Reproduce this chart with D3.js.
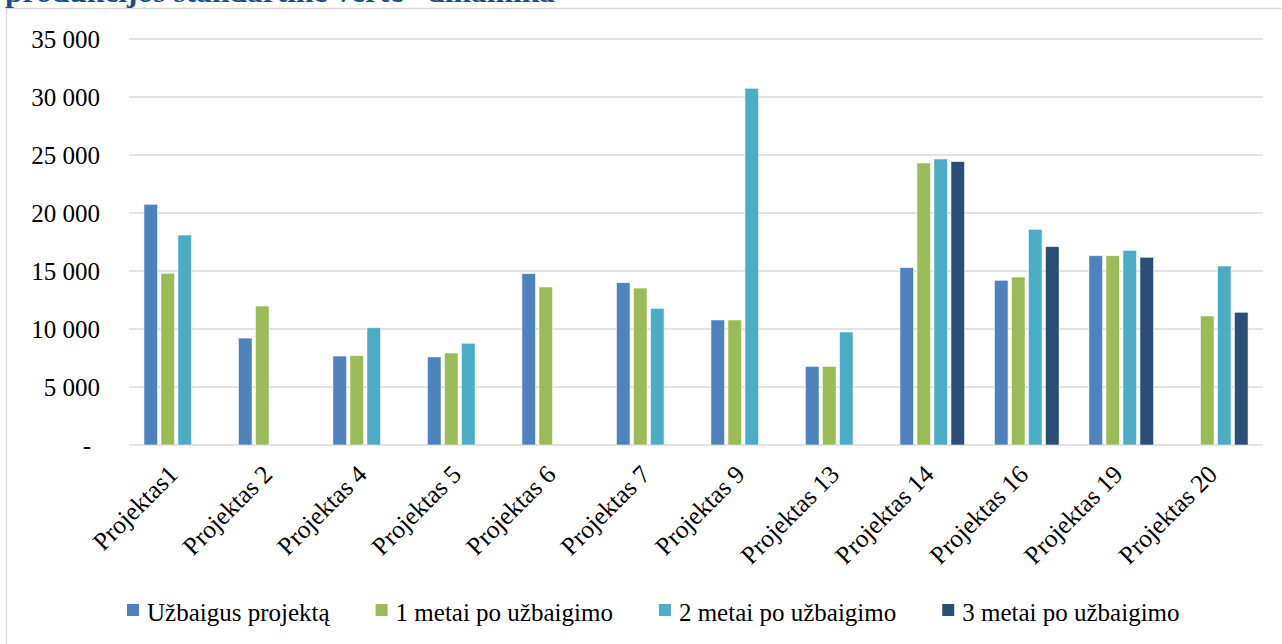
<!DOCTYPE html>
<html>
<head>
  <meta charset="utf-8">
  <title>Projektų vertės dinamika</title>
  <script src="https://cdn.jsdelivr.net/npm/d3@7/dist/d3.min.js"></script>
</head>
<style>
  html,
  body {
    margin: 0;
    padding: 0;
    overflow: hidden;
    background: white
  }

  svg {
    font-family: "Liberation Serif", "DejaVu Serif", serif;
  }
</style>
<body>
  <div id="chart"></div>
</body>
<script>
  const projects = ['Projektas1', 'Projektas 2', 'Projektas 4', 'Projektas 5', 'Projektas 6', 'Projektas 7',
    'Projektas 9', 'Projektas 13', 'Projektas 14', 'Projektas 16', 'Projektas 19', 'Projektas 20']
  const seriesNames = ['Užbaigus projektą', '1 metai po užbaigimo', '2 metai po užbaigimo', '3 metai po užbaigimo']
  const colors = ['#4f81bd', '#9bbb59', '#4bacc6', '#2c4d75']

  // null = no bar for that project
  const atCompletion = [20750, 9220, 7670, 7590, 14770, 13990, 10780, 6780, 15290, 14200, 16320, null]
  const oneYear = [14800, 11980, 7700, 7930, 13620, 13530, 10780, 6780, 24310, 14480, 16320, 11120]
  const twoYears = [18100, null, 10110, 8770, null, 11780, 30750, 9740, 24660, 18590, 16780, 15430]
  const threeYears = [null, null, null, null, null, null, null, null, 24430, 17100, 16180, 11440]

  const yTicks = [0, 5000, 10000, 15000, 20000, 25000, 30000, 35000]
  const title = 'produkcijos standartinė vertė“ dinamika'

  const W = 1282, H = 644
  const plotLeft = 129, plotRight = 1263, plotTop = 39, plotBottom = 445

  const svg = d3.select('#chart').append('svg')
    .attr('width', W)
    .attr('height', H)

  // chart frame (top and left edges visible)
  svg.append('rect')
    .attr('x', 6.5).attr('y', 8.5)
    .attr('width', W + 20).attr('height', H + 20)
    .attr('fill', 'white')
    .attr('stroke', '#d9d9d9')
    .attr('stroke-width', 1.5)

  // title, cut by the top of the picture as in the source
  svg.append('text')
    .attr('x', 5).attr('y', 2)
    .attr('textLength', 550)
    .attr('lengthAdjust', 'spacingAndGlyphs')
    .style('font-size', '29px')
    .style('font-weight', 'bold')
    .attr('fill', '#1a4d8f')
    .text(title)

  const y = d3.scaleLinear().domain([0, 35000]).range([plotBottom, plotTop])
  const x0 = d3.scaleBand().domain(projects).range([plotLeft, plotRight]).paddingInner(0.28).paddingOuter(0.14)
  const x1 = d3.scaleBand().domain(d3.range(4)).range([0, x0.bandwidth()]).paddingInner(0.2).paddingOuter(0.1)

  const fmt = d => d === 0 ? '-' : d3.format(',')(d).replace(',', ' ')

  // gridlines
  svg.append('g')
    .selectAll('line')
    .data(yTicks)
    .enter().append('line')
    .attr('x1', plotLeft).attr('x2', plotRight)
    .attr('y1', d => y(d)).attr('y2', d => y(d))
    .attr('stroke', '#d9d9d9')
    .attr('stroke-width', 1.5)

  svg.append('g')
    .selectAll('text')
    .data(yTicks)
    .enter().append('text')
    .attr('x', d => d === 0 ? 91 : 100)
    .attr('y', d => y(d))
    .attr('dy', '0.35em')
    .style('text-anchor', 'end')
    .style('font-size', '25px')
    .attr('fill', '#000')
    .text(fmt)

  // bars
  const allSeries = [atCompletion, oneYear, twoYears, threeYears]
  const groups = svg.append('g')
    .selectAll('g')
    .data(projects)
    .enter().append('g')
    .attr('transform', d => 'translate(' + x0(d) + ',0)')

  groups.selectAll('rect')
    .data((d, i) => allSeries.map((s, k) => ({ k: k, v: s[i] })).filter(e => e.v != null))
    .enter().append('rect')
    .attr('x', d => x1(d.k))
    .attr('width', x1.bandwidth())
    .attr('y', d => y(d.v))
    .attr('height', d => y(0) - y(d.v))
    .attr('fill', d => colors[d.k])
    .attr('stroke', 'white')
    .attr('stroke-opacity', 0.7)
    .attr('stroke-width', 0.8)

  // rotated category labels
  svg.append('g')
    .selectAll('text')
    .data(projects)
    .enter().append('text')
    .attr('transform', d => {
      const cx = x0(d) + x0.bandwidth() / 2 + 3
      return 'translate(' + cx + ',476) rotate(-45)'
    })
    .style('text-anchor', 'end')
    .style('font-size', '25.5px')
    .attr('fill', '#000')
    .text(d => d)

  // legend
  const legend = svg.append('g').attr('transform', 'translate(127,604)')
  let lx = 0
  seriesNames.forEach((name, k) => {
    const item = legend.append('g').attr('transform', 'translate(' + lx + ',0)')
    item.append('rect')
      .attr('width', 12).attr('height', 12)
      .attr('fill', colors[k])
    const t = item.append('text')
      .attr('x', 20).attr('y', 17)
      .style('font-size', '25px')
      .attr('fill', '#000')
      .text(name)
    lx += 20 + t.node().getComputedTextLength() + 46
  })
</script>
</html>
